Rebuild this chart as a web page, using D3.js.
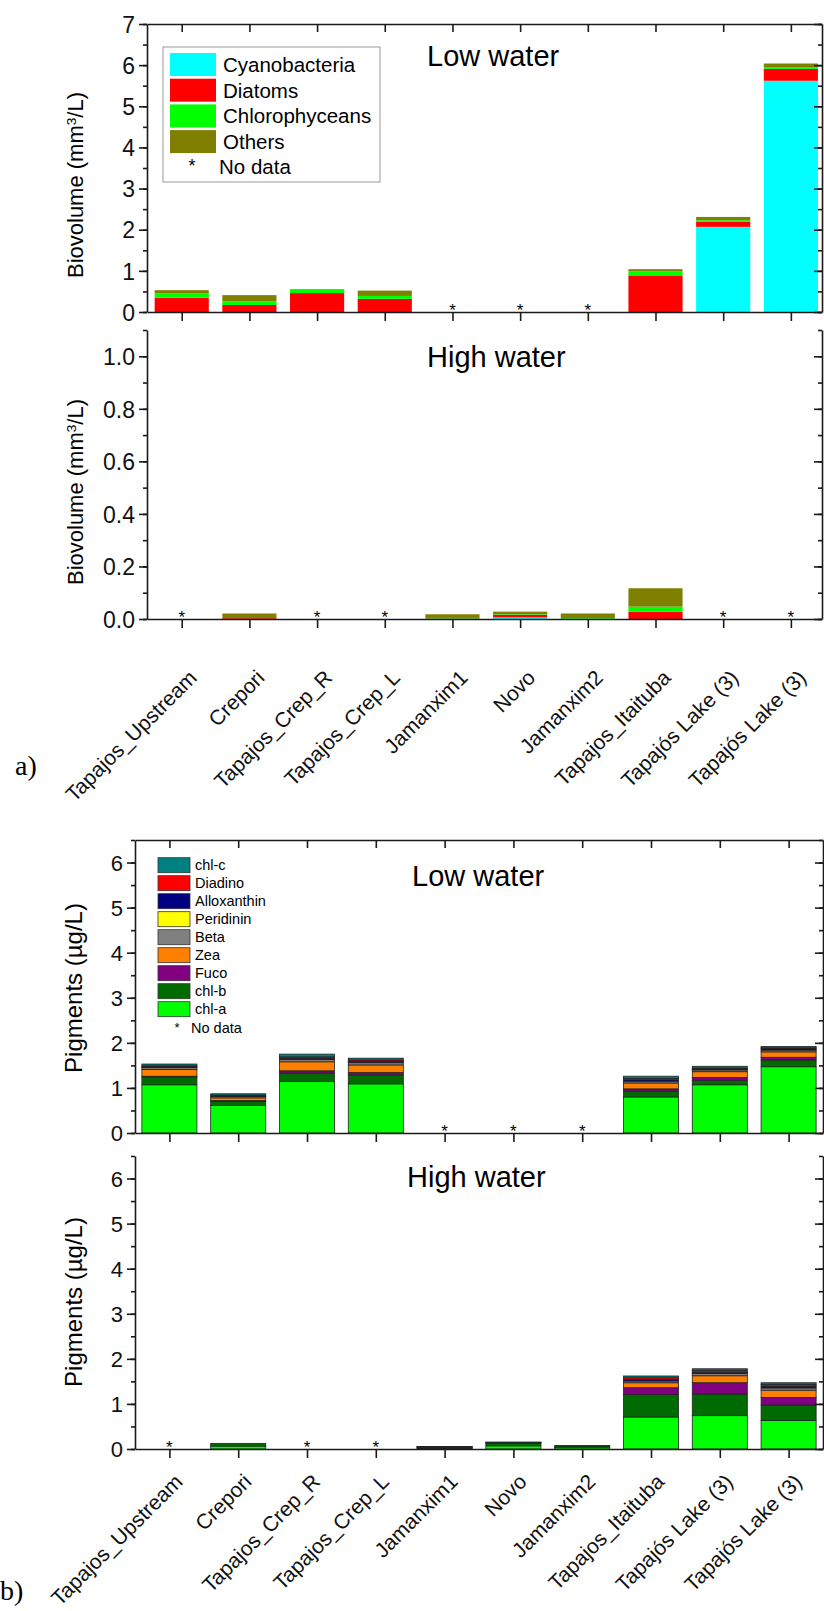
<!DOCTYPE html>
<html lang="en">
<head>
<meta charset="UTF-8">
<title>Biovolume and pigments - Tapajos</title>
<script src="https://d3js.org/d3.v7.min.js"></script>
<style>
  body { margin: 0; background: #fff; }
  svg { display: block; font-family: "Liberation Sans", Arial, sans-serif; }
  .axis path, .axis line { stroke: #1a1a1a; stroke-width: 1.6; }
  .axis text { fill: #111; }
</style>
</head>
<body>
<svg id="chart" width="824" height="1611"></svg>
<script>
// sites along the x axis
const sites = ["Tapajos_Upstream", "Crepori", "Tapajos_Crep_R", "Tapajos_Crep_L", "Jamanxim1",
               "Novo", "Jamanxim2", "Tapajos_Itaituba", "Tapajós Lake (3)", "Tapajós Lake (3)"];

// a) biovolume (mm3/L), stacked bottom -> top; null = no data
const bioGroups = ["Cyanobacteria", "Diatoms", "Chlorophyceans", "Others"];
const bioColors = ["#00ffff", "#ff0000", "#00ff00", "#808000"];
const bioLow = [
  [0, 0.35, 0.10, 0.08],
  [0, 0.17, 0.09, 0.15],
  [0, 0.46, 0.08, 0.015],
  [0, 0.32, 0.07, 0.13],
  null, null, null,
  [0, 0.89, 0.10, 0.05],
  [2.07, 0.12, 0.04, 0.08],
  [5.62, 0.29, 0.03, 0.10]
];
const bioHigh = [
  null,
  [0, 0.003, 0, 0.018],
  null, null,
  [0, 0.002, 0.002, 0.014],
  [0.006, 0.01, 0.002, 0.01],
  [0, 0, 0.003, 0.018],
  [0, 0.028, 0.019, 0.07],
  null, null
];

// b) pigments (ug/L), stacked bottom -> top; null = no data
const pigGroups = ["chl-a", "chl-b", "Fuco", "Zea", "Beta", "Peridinin", "Alloxanthin", "Diadino", "chl-c"];
const pigColors = ["#00ff00", "#006b00", "#800080", "#ff8000", "#808080", "#ffff00", "#000080", "#ff0000", "#008080"];
const pigLow = [
  [1.07, 0.17, 0.02, 0.15, 0.04, 0, 0.02, 0.02, 0.04],
  [0.61, 0.09, 0.02, 0.06, 0.03, 0, 0.01, 0.02, 0.03],
  [1.14, 0.19, 0.05, 0.20, 0.05, 0, 0.03, 0.03, 0.06],
  [1.09, 0.20, 0.05, 0.17, 0.05, 0, 0.03, 0.03, 0.04],
  null, null, null,
  [0.80, 0.13, 0.05, 0.13, 0.04, 0, 0.03, 0.03, 0.05],
  [1.07, 0.10, 0.06, 0.13, 0.04, 0, 0.02, 0.02, 0.04],
  [1.47, 0.15, 0.06, 0.12, 0.04, 0, 0.03, 0.02, 0.03]
];
const pigHigh = [
  null,
  [0.065, 0.06, 0, 0, 0, 0, 0, 0, 0],
  null, null,
  [0.015, 0.015, 0.01, 0.005, 0.005, 0, 0, 0, 0.005],
  [0.07, 0.06, 0.005, 0.005, 0.005, 0, 0, 0, 0.01],
  [0.04, 0.03, 0, 0, 0, 0, 0, 0, 0.005],
  [0.71, 0.50, 0.15, 0.11, 0.04, 0, 0.03, 0.04, 0.04],
  [0.74, 0.48, 0.25, 0.155, 0.05, 0, 0.03, 0.04, 0.035],
  [0.635, 0.34, 0.17, 0.16, 0.05, 0, 0.04, 0.04, 0.035]
];

const svg = d3.select("#chart");

function drawPanel(p) {
  const g = svg.append("g");
  const x = d3.scaleLinear().domain(p.xDomain).range([p.left, p.right]);
  const y = d3.scaleLinear().domain(p.yDomain).range([p.bottom, p.top]);
  const step = x(2) - x(1);
  const bw = step * 0.8;

  // stacked bars
  const rows = p.data.map((r, i) => r ? { i: i + 1, v: r } : null).filter(d => d);
  const stack = d3.stack().keys(d3.range(p.groups.length)).value((d, k) => d.v[k]);
  const layers = stack(rows);
  layers.forEach((layer, k) => {
    g.append("g").selectAll("rect")
      .data(layer.filter(s => s[1] - s[0] > 0))
      .join("rect")
      .attr("x", s => x(s.data.i) - bw / 2)
      .attr("y", s => y(s[1]))
      .attr("width", bw)
      .attr("height", s => y(s[0]) - y(s[1]))
      .attr("fill", p.colors[k])
      .attr("stroke", p.outline ? "#222" : "none")
      .attr("stroke-width", p.outline ? 0.8 : 0);
  });

  // no data markers
  g.append("g").selectAll("text")
    .data(p.data.map((r, i) => r ? null : i + 1).filter(d => d))
    .join("text")
    .attr("x", d => x(d))
    .attr("y", p.bottom + 4)
    .attr("text-anchor", "middle")
    .attr("font-size", 17)
    .text("*");

  const major = d3.range(p.yDomain[0], p.yDomain[1] + 1e-9, p.major);
  const minor = d3.range(p.yDomain[0], p.yDomain[1] + 1e-9, p.minor);
  const cats = d3.range(1, sites.length + 1);

  // left axis
  g.append("g").attr("class", "axis").attr("transform", `translate(${p.left},0)`)
    .call(d3.axisLeft(y).tickValues(minor).tickSize(4).tickSizeOuter(0).tickFormat(""));
  const la = g.append("g").attr("class", "axis").attr("transform", `translate(${p.left},0)`)
    .call(d3.axisLeft(y).tickValues(major).tickSize(8).tickSizeOuter(0).tickPadding(4).tickFormat(d3.format(p.fmt)));
  la.select(".domain").remove();
  la.selectAll("text").attr("font-size", p.tickFont).attr("font-family", null).attr("dy", "0.36em");

  // right axis, ticks pointing in
  g.append("g").attr("class", "axis").attr("transform", `translate(${p.right},0)`)
    .call(d3.axisRight(y).tickValues(minor).tickSize(-4).tickSizeOuter(0).tickFormat(""));
  g.append("g").attr("class", "axis").attr("transform", `translate(${p.right},0)`)
    .call(d3.axisRight(y).tickValues(major).tickSize(-8).tickSizeOuter(0).tickFormat(""))
    .select(".domain").remove();

  // top frame
  if (p.topFrame) {
    g.append("g").attr("class", "axis").attr("transform", `translate(0,${p.top})`)
      .call(d3.axisTop(x).tickValues(cats).tickSize(-8).tickSizeOuter(0).tickFormat(""));
  }

  // bottom axis
  const ba = g.append("g").attr("class", "axis").attr("transform", `translate(0,${p.bottom})`)
    .call(d3.axisBottom(x).tickValues(cats).tickSize(9).tickSizeOuter(0)
      .tickFormat(p.labels ? (d => sites[d - 1]) : ""));
  if (p.labels) {
    ba.selectAll("text")
      .attr("font-size", p.labelFont).attr("font-family", null)
      .attr("text-anchor", "end")
      .attr("y", 0).attr("dy", 0)
      .attr("transform", `translate(${p.labelDx},${p.labelDy}) rotate(-45)`);
  }

  // panel title
  g.append("text").attr("x", p.titleX).attr("y", p.titleY)
    .attr("font-size", 29).text(p.title);

  // y label
  const yl = g.append("text")
    .attr("transform", `translate(${p.ylabX},${p.ylabY}) rotate(-90)`)
    .attr("text-anchor", "middle")
    .attr("font-size", p.ylabFont);
  if (p.unit === "bio") {
    yl.append("tspan").text("Biovolume (mm");
    yl.append("tspan").attr("baseline-shift", "super").attr("font-size", p.ylabFont * 0.62).text("3");
    yl.append("tspan").text("/L)");
  } else {
    yl.text("Pigments (\u00b5g/L)");
  }
  return { x, y };
}

// a) biovolume
drawPanel({ data: bioLow, groups: bioGroups, colors: bioColors, outline: false,
  left: 147, right: 822, top: 24, bottom: 312, xDomain: [0.487, 10.46], yDomain: [0, 7],
  major: 1, minor: 0.5, fmt: "d", tickFont: 23, topFrame: true, labels: false,
  title: "Low water", titleX: 427, titleY: 66,
  unit: "bio", ylabX: 83, ylabY: 185, ylabFont: 22 });
drawPanel({ data: bioHigh, groups: bioGroups, colors: bioColors, outline: false,
  left: 147, right: 822, top: 330, bottom: 619, xDomain: [0.487, 10.46], yDomain: [0, 1.1],
  major: 0.2, minor: 0.1, fmt: ".1f", tickFont: 23, topFrame: false, labels: true,
  labelFont: 21, labelDx: 16, labelDy: 60,
  title: "High water", titleX: 427, titleY: 367,
  unit: "bio", ylabX: 83, ylabY: 492, ylabFont: 22 });

// b) pigments
drawPanel({ data: pigLow, groups: pigGroups, colors: pigColors, outline: true,
  left: 135, right: 823, top: 840, bottom: 1133, xDomain: [0.5, 10.5], yDomain: [0, 6.5],
  major: 1, minor: 0.5, fmt: "d", tickFont: 22, topFrame: true, labels: false,
  title: "Low water", titleX: 412, titleY: 886,
  unit: "pig", ylabX: 82, ylabY: 988, ylabFont: 24 });
drawPanel({ data: pigHigh, groups: pigGroups, colors: pigColors, outline: true,
  left: 135, right: 823, top: 1156, bottom: 1449, xDomain: [0.5, 10.5], yDomain: [0, 6.5],
  major: 1, minor: 0.5, fmt: "d", tickFont: 22, topFrame: false, labels: true,
  labelFont: 21, labelDx: 14, labelDy: 34,
  title: "High water", titleX: 407, titleY: 1187,
  unit: "pig", ylabX: 82, ylabY: 1302, ylabFont: 24 });

// legend a
const legA = svg.append("g");
legA.append("rect").attr("x", 163).attr("y", 47).attr("width", 217).attr("height", 135)
  .attr("fill", "#fff").attr("stroke", "#999").attr("stroke-width", 1);
bioGroups.forEach((name, i) => {
  const yy = 53 + i * 25.7;
  legA.append("rect").attr("x", 170).attr("y", yy).attr("width", 46).attr("height", 23)
    .attr("fill", bioColors[i]);
  legA.append("text").attr("x", 223).attr("y", yy + 11.5).attr("dy", "0.36em")
    .attr("font-size", 20.5).text(name);
});
legA.append("text").attr("x", 192).attr("y", 172).attr("text-anchor", "middle").attr("font-size", 18).text("*");
legA.append("text").attr("x", 219).attr("y", 167).attr("dy", "0.36em").attr("font-size", 20.5).text("No data");

// legend b (top entry first)
const legB = svg.append("g");
const pigLegend = d3.range(pigGroups.length).reverse();
pigLegend.forEach((k, i) => {
  const yy = 857.7 + i * 18;
  legB.append("rect").attr("x", 158).attr("y", yy).attr("width", 32).attr("height", 15)
    .attr("fill", pigColors[k]).attr("stroke", "#333").attr("stroke-width", 0.8);
  legB.append("text").attr("x", 195).attr("y", yy + 7.5).attr("dy", "0.36em")
    .attr("font-size", 14.5).text(pigGroups[k]);
});
legB.append("text").attr("x", 177).attr("y", 1032).attr("text-anchor", "middle").attr("font-size", 13).text("*");
legB.append("text").attr("x", 191).attr("y", 1028).attr("dy", "0.36em").attr("font-size", 14.5).text("No data");

// panel letters
svg.append("text").attr("x", 15).attr("y", 775).attr("font-family", "Liberation Serif, Times New Roman, serif")
  .attr("font-size", 28).text("a)");
svg.append("text").attr("x", 0).attr("y", 1600).attr("font-family", "Liberation Serif, Times New Roman, serif")
  .attr("font-size", 28).text("b)");
</script>
</body>
</html>
